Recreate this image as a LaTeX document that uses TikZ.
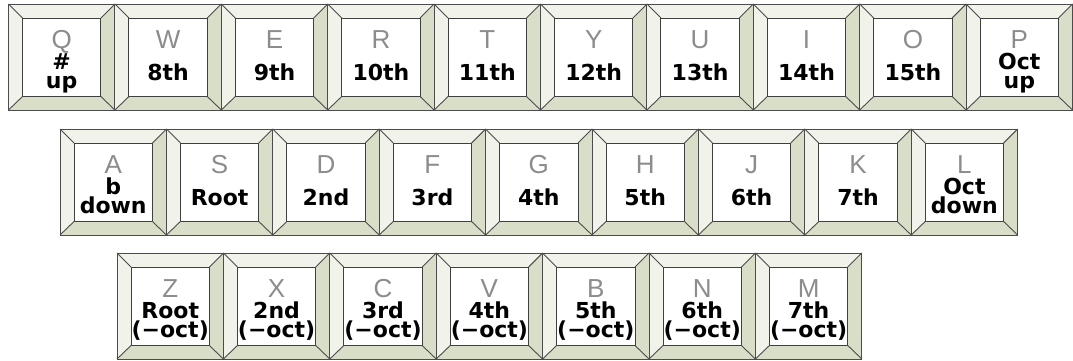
\documentclass[tikz,border=0pt]{standalone}
\usepackage{fontspec}
\setmainfont{Liberation Sans}
\newfontfamily\keyfont{DejaVu Sans}
\usetikzlibrary{calc}

\definecolor{bevellight}{HTML}{F1F2E9}
\definecolor{beveldark}{HTML}{D9DEC8}
\definecolor{lettergray}{HTML}{8C8C8C}

\tikzset{
  keybox/.style={anchor=north west, minimum width=106.4pt, minimum height=106pt, inner sep=0pt, outer sep=0pt},
  keyface/.style={draw=black!75, fill=white, line width=0.9pt, minimum width=78.4pt, minimum height=78.5pt, inner sep=0pt, outer sep=0pt},
  keyedge/.style={draw=black!70, line width=0.9pt},
  keyletter/.style={anchor=base, inner sep=0pt, text=lettergray, font=\fontsize{26}{26}\selectfont},
  keylabel/.style={anchor=south, inner sep=0pt, text depth=0pt, align=center, font=\keyfont\bfseries\fontsize{22}{19}\selectfont},
}

% one key: name, left, top, letter, label, label baseline
\newcommand{\kbkey}[6]{%
  \node[keybox] (#1) at (#2,#3) {};
  \coordinate (#1-nw) at ($(#1.north west)+(14,14)$);
  \coordinate (#1-ne) at ($(#1.north east)+(-14,14)$);
  \coordinate (#1-sw) at ($(#1.south west)+(14,-13.5)$);
  \coordinate (#1-se) at ($(#1.south east)+(-14,-13.5)$);
  % bevels
  \fill[bevellight] (#1.north west) -- (#1.north east) -- (#1-ne) -- (#1-nw) -- cycle;
  \fill[bevellight] (#1.north west) -- (#1-nw) -- (#1-sw) -- (#1.south west) -- cycle;
  \fill[beveldark] (#1.north east) -- (#1.south east) -- (#1-se) -- (#1-ne) -- cycle;
  \fill[beveldark] (#1.south west) -- (#1-sw) -- (#1-se) -- (#1.south east) -- cycle;
  % key top
  \node[keyface] (#1-f) at ($(#1-nw)!0.5!(#1-se)$) {};
  \draw[keyedge] (#1.north west) -- (#1-f.north west);
  \draw[keyedge] (#1.north east) -- (#1-f.north east);
  \draw[keyedge] (#1.south west) -- (#1-f.south west);
  \draw[keyedge] (#1.south east) -- (#1-f.south east);
  \draw[keyedge] (#1.north west) rectangle (#1.south east);
  % texts
  \node[keyletter] (#1-l) at ($(#1.north)+(0,44)$) {#4};
  \node[keylabel] (#1-t) at ($(#1.north)+(0,#6)$) {#5};
}

\begin{document}
\begin{tikzpicture}[x=1pt, y=-1pt]

    \useasboundingbox (0,0) rectangle (1073,360);

    % 1. top row
    \foreach \i/\ltr/\lbl/\lb in {0/Q/{\#\\up}/85, 1/W/8th/77, 2/E/9th/77, 3/R/10th/77,
        4/T/11th/77, 5/Y/12th/77, 6/U/13th/77, 7/I/14th/77, 8/O/15th/77, 9/P/{Oct\\up}/85} {
        \kbkey{top\i}{8.5+\i*106.4}{4}{\ltr}{\lbl}{\lb}
    }

    % 2. home row
    \foreach \i/\ltr/\lbl/\lb in {0/A/{b\\down}/85, 1/S/Root/77, 2/D/2nd/77, 3/F/3rd/77,
        4/G/4th/77, 5/H/5th/77, 6/J/6th/77, 7/K/7th/77, 8/L/{Oct\\down}/85} {
        \kbkey{home\i}{60+\i*106.4}{129}{\ltr}{\lbl}{\lb}
    }

    % 3. bottom row
    \foreach \i/\ltr/\lbl in {0/Z/{Root\\(−oct)}, 1/X/{2nd\\(−oct)}, 2/C/{3rd\\(−oct)},
        3/V/{4th\\(−oct)}, 4/B/{5th\\(−oct)}, 5/N/{6th\\(−oct)}, 6/M/{7th\\(−oct)}} {
        \kbkey{low\i}{117+\i*106.4}{253}{\ltr}{\lbl}{85}
    }

\end{tikzpicture}
\end{document}
